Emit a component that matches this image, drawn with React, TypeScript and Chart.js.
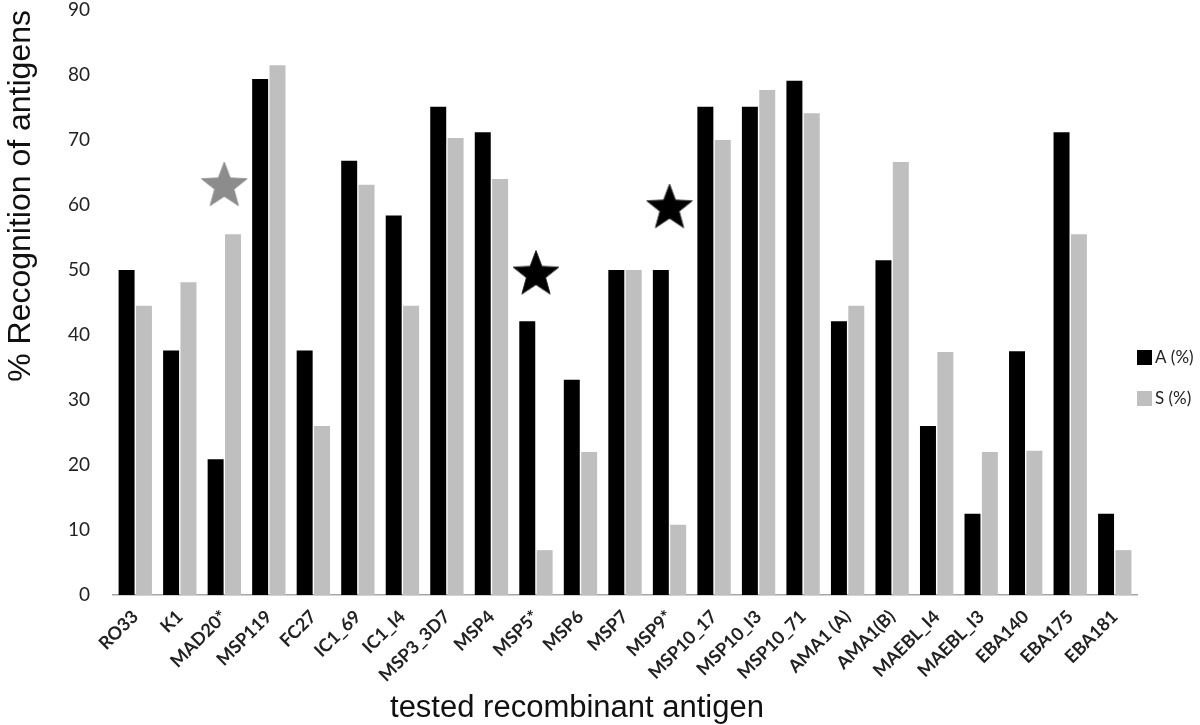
import React, { useEffect, useRef } from 'react';
import { Chart, registerables } from 'chart.js';

Chart.register(...registerables);

const categories = [
  'RO33', 'K1', 'MAD20*', 'MSP119', 'FC27', 'IC1_69', 'IC1_I4', 'MSP3_3D7', 'MSP4', 'MSP5*', 'MSP6', 'MSP7',
  'MSP9*', 'MSP10_17', 'MSP10_I3', 'MSP10_71', 'AMA1 (A)', 'AMA1(B)', 'MAEBL_I4', 'MAEBL_I3', 'EBA140', 'EBA175', 'EBA181',
];
const seriesA = [50, 37.6, 20.9, 79.4, 37.6, 66.8, 58.4, 75.1, 71.2, 42.1, 33.1, 50, 50, 75.1, 75.1, 79.1, 42.1, 51.5, 26, 12.5, 37.5, 71.2, 12.5];
const seriesS = [44.5, 48.1, 55.5, 81.5, 26, 63.1, 44.5, 70.3, 64, 6.9, 22, 50, 10.8, 70, 77.7, 74.1, 44.5, 66.6, 37.4, 22, 22.2, 55.5, 6.9];
const seriesLabels = ['A (%)', 'S (%)'];
const seriesColors = ['#000000', '#bfbfbf'];

const yTicks = [0, 10, 20, 30, 40, 50, 60, 70, 80, 90];

const starCategories = ['MAD20*', 'MSP5*', 'MSP9*'];
const starValues = [62.9, 49.3, 59.5];
const starColors = ['#8c8c8c', '#000000', '#000000'];

const yTitle = '% Recognition of antigens';
const xTitle = 'tested recombinant antigen';

function makeStar(color: string, r: number) {
  const pad = 2;
  const size = Math.ceil(2 * r + 2 * pad);
  const c = document.createElement('canvas');
  c.width = size;
  c.height = size;
  const g = c.getContext('2d')!;
  const cx = size / 2;
  const cy = size / 2;
  g.beginPath();
  for (let i = 0; i < 10; i++) {
    const a = -Math.PI / 2 + (i * Math.PI) / 5;
    const rr = i % 2 === 0 ? r : r * 0.42;
    const x = cx + rr * Math.cos(a);
    const y = cy + rr * Math.sin(a);
    if (i === 0) g.moveTo(x, y);
    else g.lineTo(x, y);
  }
  g.closePath();
  g.fillStyle = color;
  g.fill();
  g.lineWidth = 1;
  g.strokeStyle = color === '#000000' ? '#222' : color;
  g.stroke();
  return c;
}

const sideLegend = {
  id: 'sideLegend',
  afterDraw(chart: any) {
    const ctx = chart.ctx;
    const left = chart.chartArea.right;
    const rows = [357, 398];
    ctx.save();
    seriesLabels.forEach((lab, i) => {
      const y = rows[i];
      ctx.fillStyle = seriesColors[i];
      ctx.fillRect(left, y - 7, 15, 15);
      ctx.fillStyle = '#222';
      ctx.font = '17px Lato';
      ctx.textBaseline = 'middle';
      ctx.textAlign = 'left';
      ctx.fillText(lab, left + 18, y + 1);
    });
    ctx.restore();
  },
};

const bottomTitle = {
  id: 'bottomTitle',
  afterDraw(chart: any) {
    const ctx = chart.ctx;
    ctx.save();
    ctx.fillStyle = '#111';
    ctx.font = '31px "Liberation Sans", Arial, sans-serif';
    ctx.textAlign = 'center';
    ctx.textBaseline = 'alphabetic';
    ctx.fillText(xTitle, 577, 717);
    ctx.restore();
  },
};

export default function App() {
  const ref = useRef<HTMLCanvasElement | null>(null);

  useEffect(() => {
    document.body.style.margin = '0';
    if (!ref.current) return;
    const starImgs = starColors.map((c) => makeStar(c, 24));
    const starData = categories.map((c) => {
      const k = starCategories.indexOf(c);
      return k >= 0 ? starValues[k] : null;
    });
    const starStyle = categories.map((c) => {
      const k = starCategories.indexOf(c);
      return k >= 0 ? starImgs[k] : 'circle';
    });

    const chart = new Chart(ref.current, {
      type: 'bar',
      data: {
        labels: categories,
        datasets: [
          {
            label: seriesLabels[0],
            data: seriesA,
            backgroundColor: seriesColors[0],
            categoryPercentage: 0.78,
            barPercentage: 0.92,
            order: 2,
          },
          {
            label: seriesLabels[1],
            data: seriesS,
            backgroundColor: seriesColors[1],
            categoryPercentage: 0.78,
            barPercentage: 0.92,
            order: 2,
          },
          {
            type: 'line',
            label: 'stars',
            data: starData,
            showLine: false,
            pointStyle: starStyle as any,
            pointRadius: 24,
            borderWidth: 0,
            clip: false,
            order: 1,
          } as any,
        ],
      },
      options: {
        animation: false,
        responsive: true,
        maintainAspectRatio: false,
        layout: { autoPadding: false, padding: { left: 0, right: 63, top: 10, bottom: 0 } },
        plugins: {
          legend: { display: false },
          tooltip: { enabled: false },
        },
        scales: {
          x: {
            type: 'category',
            offset: true,
            grid: { display: false, drawTicks: false },
            border: { display: true, color: '#a6a6a6', width: 1.5 },
            ticks: {
              autoSkip: false,
              maxRotation: 45,
              minRotation: 45,
              padding: 11,
              color: '#222',
              font: { family: 'Lato', weight: 'bold', size: 18 },
            },
            afterFit: (s: any) => {
              s.height = 130;
            },
          },
          y: {
            min: 0,
            max: 90,
            grid: { display: false, drawTicks: false },
            border: { display: false },
            afterBuildTicks: (s: any) => {
              s.ticks = yTicks.map((v) => ({ value: v }));
            },
            ticks: {
              padding: 23,
              color: '#222',
              font: { family: 'Lato', size: 19 },
            },
            title: {
              display: true,
              text: yTitle,
              align: 'end',
              color: '#111',
              font: { family: '"Liberation Sans", Arial, sans-serif', size: 32 },
              padding: { top: 2, bottom: 27 },
            },
            afterFit: (s: any) => {
              s.width = 113;
              s.paddingTop = 0;
              s.paddingBottom = 0;
            },
          },
        },
      },
      plugins: [sideLegend, bottomTitle],
    });
    return () => chart.destroy();
  }, []);

  return (
    <div style={{ width: 1200, height: 725, position: 'relative', background: '#fff' }}>
      <canvas ref={ref} />
    </div>
  );
}
